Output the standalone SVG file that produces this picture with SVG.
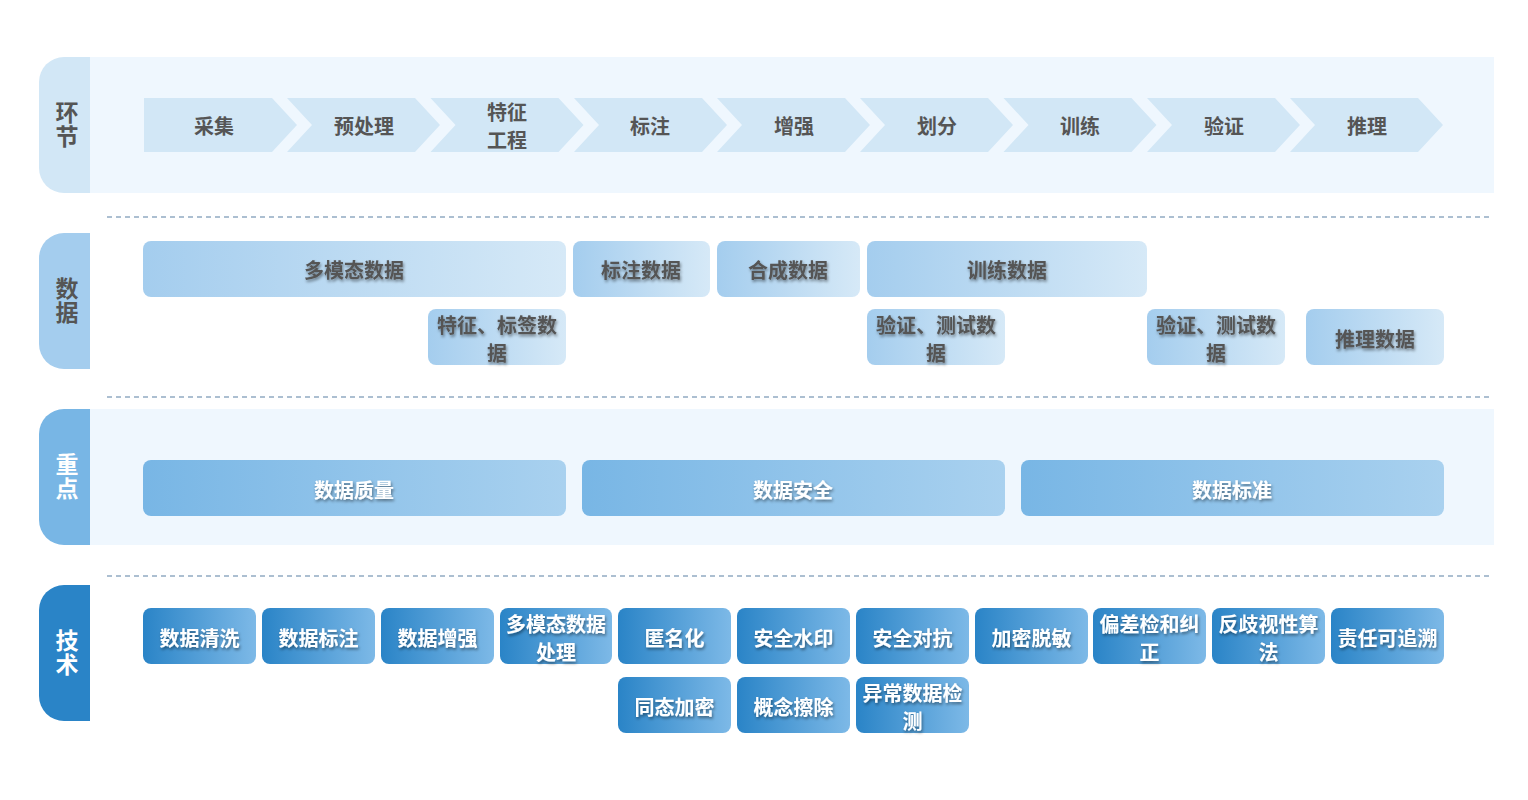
<svg xmlns="http://www.w3.org/2000/svg" width="1528" height="800" viewBox="0 0 1528 800">
<defs>
<linearGradient id="gData" x1="0" y1="0" x2="1" y2="0"><stop offset="0" stop-color="#a4cdee"/><stop offset="1" stop-color="#d6e9f7"/></linearGradient>
<linearGradient id="gFocus" x1="0" y1="0" x2="1" y2="0"><stop offset="0" stop-color="#78b6e5"/><stop offset="1" stop-color="#a9d1ef"/></linearGradient>
<linearGradient id="gTech" x1="0" y1="0" x2="1" y2="0"><stop offset="0" stop-color="#2a84c7"/><stop offset="1" stop-color="#7db9e7"/></linearGradient>
<filter id="ts" x="-20%" y="-40%" width="140%" height="180%"><feDropShadow dx="1" dy="2" stdDeviation="1.5" flood-color="#000" flood-opacity="0.45"/></filter>
</defs>
<style>
text{font-family:"Noto Sans CJK SC","Noto Sans",sans-serif;font-weight:bold;font-size:20px;text-anchor:middle;dominant-baseline:central}
.tab{font-size:23px;writing-mode:vertical-rl;letter-spacing:1px}
.dk{fill:#555555}
.wt{fill:#ffffff}
.sh{filter:url(#ts)}
.band{fill:#eff7fe}
.chev{fill:#d2e7f6}
.dash{stroke:#5b80a3;stroke-width:1.2;stroke-dasharray:5 4;fill:none}
.bd{fill:url(#gData)}
.bf{fill:url(#gFocus)}
.bt{fill:url(#gTech)}
</style>
<rect class="band" x="90" y="57" width="1404" height="136"/>
<rect class="band" x="90" y="409" width="1404" height="136"/>
<g id="connectors">
<line class="dash" x1="107" y1="217" x2="1489" y2="217"/>
<line class="dash" x1="107" y1="397" x2="1489" y2="397"/>
<line class="dash" x1="107" y1="576" x2="1489" y2="576"/>
</g>
<g id="tab-huanjie"><path d="M90,57 V193 H64 A25,25 0 0 1 39,168 V82 A25,25 0 0 1 64,57 Z" fill="#d2e7f6"/><text class="tab dk" x="67" y="125">环节</text></g>
<g id="tab-shuju"><path d="M90,233 V369 H64 A25,25 0 0 1 39,344 V258 A25,25 0 0 1 64,233 Z" fill="#a4cdee"/><text class="tab dk" x="67" y="301">数据</text></g>
<g id="tab-zhongdian"><path d="M90,409 V545 H64 A25,25 0 0 1 39,520 V434 A25,25 0 0 1 64,409 Z" fill="#78b6e5"/><text class="tab wt" x="67" y="477">重点</text></g>
<g id="tab-jishu"><path d="M90,585 V721 H64 A25,25 0 0 1 39,696 V610 A25,25 0 0 1 64,585 Z" fill="#2a84c7"/><text class="tab wt" x="67" y="653">技术</text></g>
<g id="stage-1"><path class="chev" d="M144,98 H272 L297,125 L272,152 H144 Z"/><text class="dk" x="214" y="125">采集</text></g>
<g id="stage-2"><path class="chev" d="M287,98 H415 L440,125 L415,152 H287 L312,125 Z"/><text class="dk" x="364" y="125">预处理</text></g>
<g id="stage-3"><path class="chev" d="M430.5,98 H558.5 L583.5,125 L558.5,152 H430.5 L455.5,125 Z"/><text class="dk"><tspan x="507" y="111">特征</tspan><tspan x="507" y="139">工程</tspan></text></g>
<g id="stage-4"><path class="chev" d="M574,98 H702 L727,125 L702,152 H574 L599,125 Z"/><text class="dk" x="650" y="125">标注</text></g>
<g id="stage-5"><path class="chev" d="M717,98 H845 L870,125 L845,152 H717 L742,125 Z"/><text class="dk" x="794" y="125">增强</text></g>
<g id="stage-6"><path class="chev" d="M860,98 H988 L1013,125 L988,152 H860 L885,125 Z"/><text class="dk" x="937" y="125">划分</text></g>
<g id="stage-7"><path class="chev" d="M1003.5,98 H1131.5 L1156.5,125 L1131.5,152 H1003.5 L1028.5,125 Z"/><text class="dk" x="1080" y="125">训练</text></g>
<g id="stage-8"><path class="chev" d="M1147,98 H1275 L1300,125 L1275,152 H1147 L1172,125 Z"/><text class="dk" x="1224" y="125">验证</text></g>
<g id="stage-9"><path class="chev" d="M1290,98 H1418 L1443,125 L1418,152 H1290 L1315,125 Z"/><text class="dk" x="1367" y="125">推理</text></g>
<g id="data-1"><rect class="bd" x="143" y="241" width="423" height="56" rx="8"/><text class="dk sh" x="354" y="269">多模态数据</text></g>
<g id="data-2"><rect class="bd" x="573" y="241" width="137" height="56" rx="8"/><text class="dk sh" x="641" y="269">标注数据</text></g>
<g id="data-3"><rect class="bd" x="717" y="241" width="143" height="56" rx="8"/><text class="dk sh" x="788" y="269">合成数据</text></g>
<g id="data-4"><rect class="bd" x="867" y="241" width="280" height="56" rx="8"/><text class="dk sh" x="1007" y="269">训练数据</text></g>
<g id="data-5"><rect class="bd" x="428" y="309" width="138" height="56" rx="8"/><text class="dk sh"><tspan x="497" y="324">特征、标签数</tspan><tspan x="497" y="352">据</tspan></text></g>
<g id="data-6"><rect class="bd" x="867" y="309" width="138" height="56" rx="8"/><text class="dk sh"><tspan x="936" y="324">验证、测试数</tspan><tspan x="936" y="352">据</tspan></text></g>
<g id="data-7"><rect class="bd" x="1147" y="309" width="138" height="56" rx="8"/><text class="dk sh"><tspan x="1216" y="324">验证、测试数</tspan><tspan x="1216" y="352">据</tspan></text></g>
<g id="data-8"><rect class="bd" x="1306" y="309" width="138" height="56" rx="8"/><text class="dk sh" x="1375" y="338">推理数据</text></g>
<g id="focus-1"><rect class="bf" x="143" y="460" width="423" height="56" rx="8"/><text class="wt sh" x="354" y="489">数据质量</text></g>
<g id="focus-2"><rect class="bf" x="582" y="460" width="423" height="56" rx="8"/><text class="wt sh" x="793" y="489">数据安全</text></g>
<g id="focus-3"><rect class="bf" x="1021" y="460" width="423" height="56" rx="8"/><text class="wt sh" x="1232" y="489">数据标准</text></g>
<g id="tech-1"><rect class="bt" x="143" y="608" width="113" height="56" rx="8"/><text class="wt sh" x="199.5" y="637">数据清洗</text></g>
<g id="tech-2"><rect class="bt" x="262" y="608" width="113" height="56" rx="8"/><text class="wt sh" x="318.5" y="637">数据标注</text></g>
<g id="tech-3"><rect class="bt" x="381" y="608" width="113" height="56" rx="8"/><text class="wt sh" x="437.5" y="637">数据增强</text></g>
<g id="tech-4"><rect class="bt" x="500" y="608" width="112" height="56" rx="8"/><text class="wt sh"><tspan x="556" y="623">多模态数据</tspan><tspan x="556" y="651">处理</tspan></text></g>
<g id="tech-5"><rect class="bt" x="618" y="608" width="113" height="56" rx="8"/><text class="wt sh" x="674.5" y="637">匿名化</text></g>
<g id="tech-6"><rect class="bt" x="737" y="608" width="113" height="56" rx="8"/><text class="wt sh" x="793.5" y="637">安全水印</text></g>
<g id="tech-7"><rect class="bt" x="856" y="608" width="113" height="56" rx="8"/><text class="wt sh" x="912.5" y="637">安全对抗</text></g>
<g id="tech-8"><rect class="bt" x="975" y="608" width="113" height="56" rx="8"/><text class="wt sh" x="1031.5" y="637">加密脱敏</text></g>
<g id="tech-9"><rect class="bt" x="1093" y="608" width="113" height="56" rx="8"/><text class="wt sh"><tspan x="1149.5" y="623">偏差检和纠</tspan><tspan x="1149.5" y="651">正</tspan></text></g>
<g id="tech-10"><rect class="bt" x="1212" y="608" width="113" height="56" rx="8"/><text class="wt sh"><tspan x="1268.5" y="623">反歧视性算</tspan><tspan x="1268.5" y="651">法</tspan></text></g>
<g id="tech-11"><rect class="bt" x="1331" y="608" width="113" height="56" rx="8"/><text class="wt sh" x="1387.5" y="637">责任可追溯</text></g>
<g id="tech-12"><rect class="bt" x="618" y="677" width="113" height="56" rx="8"/><text class="wt sh" x="674.5" y="706">同态加密</text></g>
<g id="tech-13"><rect class="bt" x="737" y="677" width="113" height="56" rx="8"/><text class="wt sh" x="793.5" y="706">概念擦除</text></g>
<g id="tech-14"><rect class="bt" x="856" y="677" width="113" height="56" rx="8"/><text class="wt sh"><tspan x="912.5" y="692">异常数据检</tspan><tspan x="912.5" y="720">测</tspan></text></g>
</svg>
